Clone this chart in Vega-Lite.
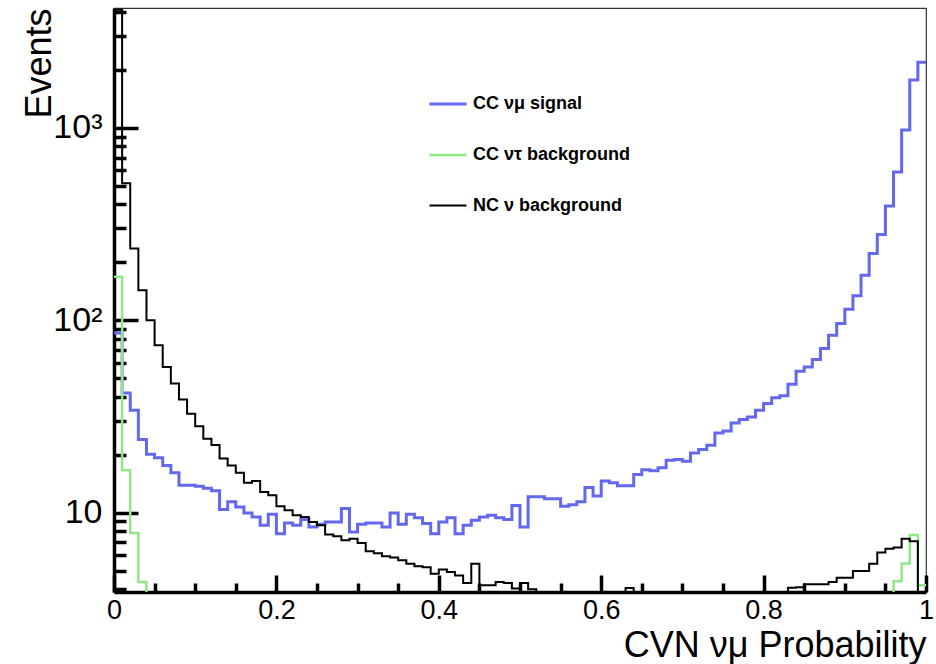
{
  "$schema": "https://vega.github.io/schema/vega-lite/v6.json",
  "width": 812,
  "height": 584,
  "autosize": {"type": "none"},
  "padding": {"left": 114, "top": 8, "right": 10, "bottom": 72},
  "background": "white",
  "config": {
    "font": "Liberation Sans",
    "view": {"stroke": "#333333", "strokeWidth": 1.2}
  },
  "data": {
    "values": [
      {"x": 0.00, "sig": 85.9, "tau": 168, "nc": 4100},
      {"x": 0.01, "sig": 41.9, "tau": 16.6, "nc": 514},
      {"x": 0.02, "sig": 34.0, "tau": 7.83, "nc": 236},
      {"x": 0.03, "sig": 24.0, "tau": 4.36, "nc": 143},
      {"x": 0.04, "sig": 20.1, "tau": 1, "nc": 100},
      {"x": 0.05, "sig": 19.3, "tau": 1, "nc": 74.1},
      {"x": 0.06, "sig": 17.6, "tau": 1, "nc": 57.2},
      {"x": 0.07, "sig": 16.1, "tau": 1, "nc": 46.9},
      {"x": 0.08, "sig": 13.9, "tau": 1, "nc": 38.7},
      {"x": 0.09, "sig": 13.9, "tau": 1, "nc": 32.7},
      {"x": 0.10, "sig": 13.7, "tau": 1, "nc": 28.1},
      {"x": 0.11, "sig": 13.4, "tau": 1, "nc": 24.2},
      {"x": 0.12, "sig": 13.0, "tau": 1, "nc": 22.5},
      {"x": 0.13, "sig": 10.4, "tau": 1, "nc": 19.1},
      {"x": 0.14, "sig": 11.4, "tau": 1, "nc": 17.6},
      {"x": 0.15, "sig": 10.7, "tau": 1, "nc": 16.1},
      {"x": 0.16, "sig": 9.95, "tau": 1, "nc": 14.3},
      {"x": 0.17, "sig": 9.49, "tau": 1, "nc": 14.6},
      {"x": 0.18, "sig": 8.59, "tau": 1, "nc": 12.8},
      {"x": 0.19, "sig": 9.8, "tau": 1, "nc": 12.3},
      {"x": 0.20, "sig": 7.78, "tau": 1, "nc": 10.8},
      {"x": 0.21, "sig": 8.83, "tau": 1, "nc": 10.3},
      {"x": 0.22, "sig": 8.59, "tau": 1, "nc": 9.68},
      {"x": 0.23, "sig": 9.2, "tau": 1, "nc": 9.49},
      {"x": 0.24, "sig": 8.42, "tau": 1, "nc": 8.93},
      {"x": 0.25, "sig": 8.7, "tau": 1, "nc": 8.59},
      {"x": 0.26, "sig": 8.93, "tau": 1, "nc": 7.71},
      {"x": 0.27, "sig": 8.93, "tau": 1, "nc": 7.53},
      {"x": 0.28, "sig": 10.5, "tau": 1, "nc": 7.18},
      {"x": 0.29, "sig": 7.93, "tau": 1, "nc": 7.32},
      {"x": 0.30, "sig": 8.7, "tau": 1, "nc": 6.95},
      {"x": 0.31, "sig": 8.83, "tau": 1, "nc": 6.31},
      {"x": 0.32, "sig": 8.83, "tau": 1, "nc": 6.16},
      {"x": 0.33, "sig": 8.42, "tau": 1, "nc": 5.93},
      {"x": 0.34, "sig": 9.95, "tau": 1, "nc": 5.84},
      {"x": 0.35, "sig": 8.7, "tau": 1, "nc": 5.65},
      {"x": 0.36, "sig": 9.8, "tau": 1, "nc": 5.43},
      {"x": 0.37, "sig": 9.42, "tau": 1, "nc": 5.26},
      {"x": 0.38, "sig": 8.77, "tau": 1, "nc": 5.2},
      {"x": 0.39, "sig": 7.78, "tau": 1, "nc": 4.82},
      {"x": 0.40, "sig": 8.93, "tau": 1, "nc": 5.06},
      {"x": 0.41, "sig": 9.42, "tau": 1, "nc": 4.91},
      {"x": 0.42, "sig": 7.78, "tau": 1, "nc": 4.72},
      {"x": 0.43, "sig": 8.59, "tau": 1, "nc": 4.31},
      {"x": 0.44, "sig": 9.12, "tau": 1, "nc": 5.43},
      {"x": 0.45, "sig": 9.49, "tau": 1, "nc": 4.19},
      {"x": 0.46, "sig": 9.68, "tau": 1, "nc": 4.19},
      {"x": 0.47, "sig": 9.42, "tau": 1, "nc": 4.36},
      {"x": 0.48, "sig": 9.2, "tau": 1, "nc": 4.31},
      {"x": 0.49, "sig": 10.9, "tau": 1, "nc": 4.03},
      {"x": 0.50, "sig": 8.42, "tau": 1, "nc": 4.31},
      {"x": 0.51, "sig": 12.1, "tau": 1, "nc": 4.0},
      {"x": 0.52, "sig": 12.1, "tau": 1, "nc": 1},
      {"x": 0.53, "sig": 11.8, "tau": 1, "nc": 1},
      {"x": 0.54, "sig": 11.8, "tau": 1, "nc": 1},
      {"x": 0.55, "sig": 10.8, "tau": 1, "nc": 1},
      {"x": 0.56, "sig": 11.0, "tau": 1, "nc": 1},
      {"x": 0.57, "sig": 11.4, "tau": 1, "nc": 1},
      {"x": 0.58, "sig": 13.5, "tau": 1, "nc": 1},
      {"x": 0.59, "sig": 12.2, "tau": 1, "nc": 1},
      {"x": 0.60, "sig": 14.6, "tau": 1, "nc": 1},
      {"x": 0.61, "sig": 14.3, "tau": 1, "nc": 1},
      {"x": 0.62, "sig": 13.8, "tau": 1, "nc": 1},
      {"x": 0.63, "sig": 13.8, "tau": 1, "nc": 4.06},
      {"x": 0.64, "sig": 15.8, "tau": 1, "nc": 1},
      {"x": 0.65, "sig": 16.7, "tau": 1, "nc": 1},
      {"x": 0.66, "sig": 16.5, "tau": 1, "nc": 1},
      {"x": 0.67, "sig": 17.1, "tau": 1, "nc": 1},
      {"x": 0.68, "sig": 18.7, "tau": 1, "nc": 1},
      {"x": 0.69, "sig": 18.9, "tau": 1, "nc": 1},
      {"x": 0.70, "sig": 18.5, "tau": 1, "nc": 1},
      {"x": 0.71, "sig": 20.4, "tau": 1, "nc": 1},
      {"x": 0.72, "sig": 21.3, "tau": 1, "nc": 1},
      {"x": 0.73, "sig": 22.4, "tau": 1, "nc": 1},
      {"x": 0.74, "sig": 25.9, "tau": 1, "nc": 1},
      {"x": 0.75, "sig": 26.6, "tau": 1, "nc": 1},
      {"x": 0.76, "sig": 29.2, "tau": 1, "nc": 1},
      {"x": 0.77, "sig": 30.5, "tau": 1, "nc": 1},
      {"x": 0.78, "sig": 31.4, "tau": 1, "nc": 1},
      {"x": 0.79, "sig": 34.0, "tau": 1, "nc": 1},
      {"x": 0.80, "sig": 36.9, "tau": 1, "nc": 1},
      {"x": 0.81, "sig": 39.6, "tau": 1, "nc": 1},
      {"x": 0.82, "sig": 40.5, "tau": 1, "nc": 1},
      {"x": 0.83, "sig": 46.5, "tau": 1, "nc": 4.07},
      {"x": 0.84, "sig": 54.3, "tau": 1, "nc": 4.1},
      {"x": 0.85, "sig": 57.2, "tau": 1, "nc": 4.24},
      {"x": 0.86, "sig": 62.5, "tau": 1, "nc": 4.24},
      {"x": 0.87, "sig": 71.3, "tau": 1, "nc": 4.24},
      {"x": 0.88, "sig": 83.6, "tau": 1, "nc": 4.36},
      {"x": 0.89, "sig": 96, "tau": 1, "nc": 4.59},
      {"x": 0.90, "sig": 114, "tau": 1, "nc": 4.59},
      {"x": 0.91, "sig": 134, "tau": 1, "nc": 4.97},
      {"x": 0.92, "sig": 171, "tau": 1, "nc": 4.97},
      {"x": 0.93, "sig": 222, "tau": 1, "nc": 5.43},
      {"x": 0.94, "sig": 279, "tau": 1, "nc": 6.2},
      {"x": 0.95, "sig": 392, "tau": 1, "nc": 6.5},
      {"x": 0.96, "sig": 589, "tau": 4.4, "nc": 6.6},
      {"x": 0.97, "sig": 972, "tau": 5.45, "nc": 7.32},
      {"x": 0.98, "sig": 1770, "tau": 7.65, "nc": 7.1},
      {"x": 0.99, "sig": 2188, "tau": 4.2, "nc": 1},
      {"x": 1.00, "sig": 2188, "tau": 4.2, "nc": 1}
    ]
  },
  "transform": [{"fold": ["sig", "tau", "nc"], "as": ["series", "events"]}],
  "mark": {"type": "line", "interpolate": "step-after", "clip": true},
  "encoding": {
    "x": {
      "field": "x",
      "type": "quantitative",
      "scale": {"domain": [0, 1], "nice": false, "zero": false},
      "axis": {
        "values": [0, 0.05, 0.1, 0.15, 0.2, 0.25, 0.3, 0.35, 0.4, 0.45, 0.5, 0.55, 0.6, 0.65, 0.7, 0.75, 0.8, 0.85, 0.9, 0.95, 1],
        "labelExpr": "abs(datum.value*5 - round(datum.value*5)) < 0.001 ? format(datum.value, '~g') : ''",
        "tickSize": {"condition": {"test": "abs(datum.value*5 - round(datum.value*5)) < 0.001", "value": -17}, "value": -9},
        "tickWidth": 3.5,
        "tickColor": "black",
        "domainColor": "black",
        "domainWidth": 3.5,
        "labelFontSize": 27,
        "labelColor": "black",
        "labelFlush": false,
        "labelOverlap": false,
        "labelPadding": 22,
        "grid": false,
        "title": "CVN νμ Probability",
        "titleFontSize": 36,
        "titleFontWeight": "normal",
        "titleColor": "black",
        "titleAnchor": "end",
        "titleAlign": "right",
        "titleBaseline": "alphabetic",
        "titleX": 812,
        "titleY": 64
      }
    },
    "y": {
      "field": "events",
      "type": "quantitative",
      "scale": {"type": "log", "domain": [3.87, 4190], "nice": false},
      "axis": {
        "values": [4, 5, 6, 7, 8, 9, 10, 20, 30, 40, 50, 60, 70, 80, 90, 100, 200, 300, 400, 500, 600, 700, 800, 900, 1000, 2000, 3000, 4000],
        "labelExpr": "datum.value == 10 ? '10' : datum.value == 100 ? '10²' : datum.value == 1000 ? '10³' : ''",
        "tickSize": {"condition": {"test": "datum.value == 10 || datum.value == 100 || datum.value == 1000", "value": -24}, "value": -12},
        "tickWidth": 3.5,
        "tickColor": "black",
        "domainColor": "black",
        "domainWidth": 3.5,
        "labelFont": "'Liberation Sans Narrow', 'Liberation Sans'",
        "labelFontSize": 34,
        "labelColor": "black",
        "labelFlush": false,
        "labelOverlap": false,
        "labelPadding": 36,
        "grid": false,
        "title": "Events",
        "titleFontSize": 36,
        "titleFontWeight": "normal",
        "titleColor": "black",
        "titleAngle": 270,
        "titleAnchor": "end",
        "titleAlign": "right",
        "titleBaseline": "alphabetic",
        "titleX": -64,
        "titleY": 0
      }
    },
    "color": {
      "field": "series",
      "type": "nominal",
      "scale": {"domain": ["sig", "tau", "nc"], "range": ["#6468EE", "#8FEA86", "#000000"]},
      "legend": {
        "orient": "none",
        "legendX": 314,
        "legendY": 76,
        "title": null,
        "symbolType": "stroke",
        "symbolSize": 1369,
        "symbolStrokeWidth": 2.5,
        "labelFont": "Liberation Sans",
        "labelFontWeight": "bold",
        "labelFontSize": 18,
        "labelColor": "black",
        "labelOffset": 5,
        "rowPadding": 22,
        "labelExpr": "datum.label == 'sig' ? 'CC νμ signal' : datum.label == 'tau' ? 'CC ντ background' : 'NC ν background'"
      }
    },
    "strokeWidth": {
      "field": "series",
      "type": "nominal",
      "scale": {"domain": ["sig", "tau", "nc"], "range": [3, 2, 3]},
      "legend": null
    }
  }
}
